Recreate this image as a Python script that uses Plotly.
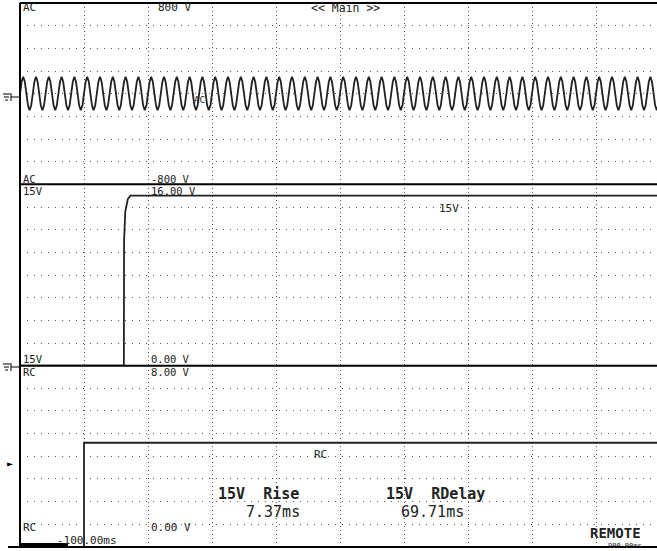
import plotly.graph_objects as go
from plotly.subplots import make_subplots

# ---- data ----
t_start_ms = -100.0
t_end_ms = 900.0
# one 50 Hz cycle of the AC trace, sampled every 2.5 ms (V)
ac_cycle_v = [0, 105, 150, 105, 0, -105, -145, -105]
ac_sample_ms = 2.5
# 15V channel
v15_t = [-100, 62.3, 62.6, 63.2, 64.5, 68.5, 72.5, 900]
v15_v = [0, 0, 11.0, 12.2, 13.6, 14.7, 15.0, 15.0]
# RC channel
rc_t = [-100, 0, 0, 900]
rc_v = [0, 0, 4.6, 4.6]
# axis ranges
ac_range = [-800, 800]
v15_range = [0, 16]
rc_range = [0, 8]

n_samples = int((t_end_ms - t_start_ms) / ac_sample_ms) + 1
ac_t = [t_start_ms + i * ac_sample_ms for i in range(n_samples)]
ac_v = [ac_cycle_v[i % len(ac_cycle_v)] for i in range(n_samples)]

W, H = 657, 551
ML, MR, MT, MB = 20, 0, 3, 4
PW = W - ML - MR
PH = H - MT - MB
x_right = t_start_ms + PW / 64.0 * 100.0

fig = make_subplots(rows=3, cols=1, shared_xaxes=True, vertical_spacing=0)
trace_style = dict(color="#222222", width=1.8)
fig.add_trace(go.Scatter(x=ac_t, y=ac_v, mode="lines", line=trace_style), row=1, col=1)
fig.add_trace(go.Scatter(x=v15_t, y=v15_v, mode="lines", line=trace_style), row=2, col=1)
fig.add_trace(go.Scatter(x=rc_t, y=rc_v, mode="lines", line=trace_style), row=3, col=1)

for r in (1, 2, 3):
    fig.update_xaxes(row=r, col=1, range=[t_start_ms, x_right], dtick=100, tick0=-100,
                     showgrid=True, gridcolor="#555555", griddash="1px,3px", gridwidth=1,
                     showticklabels=False, zeroline=False, ticks="", showline=False)
ranges = {1: (ac_range, 200), 2: (v15_range, 2), 3: (rc_range, 1)}
for r, (rg, dt) in ranges.items():
    fig.update_yaxes(row=r, col=1, range=rg, dtick=dt, tick0=rg[0],
                     showgrid=True, gridcolor="#555555", griddash="1px,6px", gridwidth=1,
                     showticklabels=False, zeroline=False, ticks="", showline=False)

def px(x):
    return (x - ML) / PW

def py(y):
    return (H - MB - y) / PH

shapes = []
blk = dict(color="black", width=2)
shapes.append(dict(type="line", xref="paper", yref="paper", x0=0, x1=0, y0=0, y1=1, line=blk))
for yy in (0, 1 / 3, 2 / 3, 1):
    shapes.append(dict(type="line", xref="paper", yref="paper", x0=0 if yy else px(8), x1=1, y0=yy, y1=yy, line=blk))
thin = dict(color="black", width=1)
# ground symbols
for gy in (97, 367):
    shapes.append(dict(type="line", xref="paper", yref="paper", x0=px(11), x1=px(20), y0=py(gy), y1=py(gy), line=thin))
    shapes.append(dict(type="line", xref="paper", yref="paper", x0=px(11), x1=px(11), y0=py(gy - 4), y1=py(gy + 4), line=thin))
    shapes.append(dict(type="line", xref="paper", yref="paper", x0=px(3), x1=px(10), y0=py(gy - 3), y1=py(gy - 3), line=thin))
    shapes.append(dict(type="line", xref="paper", yref="paper", x0=px(4), x1=px(9), y0=py(gy), y1=py(gy), line=thin))
    shapes.append(dict(type="line", xref="paper", yref="paper", x0=px(5), x1=px(8), y0=py(gy + 3), y1=py(gy + 3), line=thin))
# time marker bar bottom-left
shapes.append(dict(type="rect", xref="paper", yref="paper", x0=px(20), x1=px(68), y0=py(547), y1=py(543),
                   fillcolor="black", line=dict(width=0)))
fig.update_layout(shapes=shapes)

FONT = "DejaVu Sans Mono"
ann = []
def lab(text, x, y, size=11, anchor="left", bold=False, color="#222222"):
    ann.append(dict(text=("<b>%s</b>" % text) if bold else text, x=px(x), y=py(y), xref="paper", yref="paper",
                    xanchor=anchor, yanchor="middle", showarrow=False,
                    font=dict(family=FONT, size=size, color=color)))

lab("AC", 21, 8)
lab("800 V", 156, 8)
lab("<< Main >>", 345, 8, anchor="center", size=11.5)
lab("AC", 21, 179, size=10.5)
lab("-800 V", 149, 179, size=10.5)
lab("AC", 192, 100, size=9)
lab("15V", 21, 191, size=10.5)
lab("16.00 V", 149, 191, size=10.5)
lab("15V", 437, 208)
lab("15V", 21, 359, size=10.5)
lab("0.00 V", 149, 359, size=10.5)
lab("RC", 21, 372, size=10.5)
lab("8.00 V", 149, 372, size=10.5)
lab("RC", 312, 454)
lab("RC", 21, 527)
lab("0.00 V", 149, 527)
lab("15V  Rise", 216, 494, size=15, bold=True)
lab("7.37ms", 244, 512, size=15)
lab("15V  RDelay", 384, 494, size=15, bold=True)
lab("69.71ms", 399, 512, size=15)
lab("-100.00ms", 55, 540, size=11)
lab("REMOTE", 588, 533, size=14, bold=True)
lab("900.00ms", 606, 546, size=7)
lab("►", 10, 463, size=10, anchor="center", color="black")
fig.update_layout(annotations=ann)

fig.update_layout(width=W, height=H, margin=dict(l=ML, r=MR, t=MT, b=MB),
                  paper_bgcolor="white", plot_bgcolor="white", showlegend=False)
fig.write_html("out.html", config={"displayModeBar": False},
               post_script="document.body.style.margin='0';document.body.style.overflow='hidden';")
